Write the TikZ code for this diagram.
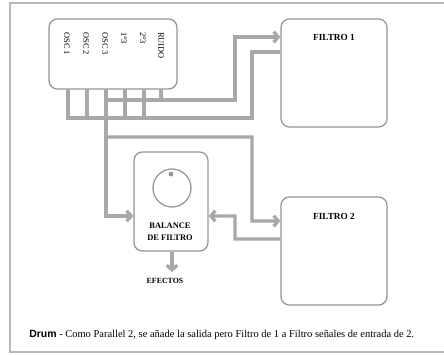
\documentclass[tikz,border=0pt]{standalone}
\usepackage{fontspec}
\setmainfont{Liberation Serif}
\newfontfamily\capsans{Liberation Sans}
\usetikzlibrary{arrows.meta, positioning}
\definecolor{Milinea}{RGB}{168,168,168}
\definecolor{Micaja}{RGB}{150,150,150}
\definecolor{Mimarco}{RGB}{185,185,185}

\begin{document}
\begin{tikzpicture}[
  x=0.025cm, y=-0.025cm,
  caja/.style={rectangle, rounded corners=6pt, draw=Micaja, line width=0.9pt,
               fill=white, minimum width=#1},
  conn/.style={line width=2.4pt, color=Milinea},
  arr/.style={-{Straight Barb[length=3.2pt, width=7.5pt]}},
  canal/.style={rotate=-90, anchor=west, inner sep=0pt,
                font=\fontsize{6pt}{6pt}\selectfont},
  lbl/.style={font=\fontsize{6.6pt}{8pt}\selectfont\bfseries, inner sep=1pt}
]
\useasboundingbox (0,0) rectangle (444,354);

%% Marco
\draw[Mimarco, line width=1.2pt] (444,3) -- (10,3) -- (10,352) -- (444,352);

%% Mezclador
\node[caja=3.2cm, minimum height=1.75cm] (mix) at (113,54) {};
\node[canal] (c1) at (67,32) {OSC 1};
\node[canal] (c2) at (86,32) {OSC 2};
\node[canal] (c3) at (105,32) {OSC 3};
\node[canal] (c4) at (124,32) {1°3};
\node[canal] (c5) at (143,32) {2°3};
\node[canal] (c6) at (161,32) {RUIDO};

\coordinate (o1) at (68,89);
\coordinate (o2) at (87,89);
\coordinate (o3) at (106,89);
\coordinate (o4) at (125,89);
\coordinate (o5) at (144,89);
\coordinate (o6) at (161,89);

%% Filtros
\node[caja=2.65cm, minimum height=2.7cm] (f1) at (334,73) {};
\node[lbl] (t1) at ([yshift=-0.475cm]f1.north) {FILTRO 1};
\node[caja=2.65cm, minimum height=2.7cm] (f2) at (334,251) {};
\node[lbl] (t2) at ([yshift=-0.5cm]f2.north) {FILTRO 2};

%% Balance
\node[caja=1.85cm, minimum height=2.475cm] (bal) at (171,201.5) {};
\node[circle, draw=Micaja, line width=0.9pt, minimum size=0.95cm] (knob) at (172,188) {};
\node[circle, fill=Micaja, inner sep=0pt, minimum size=3.5pt] (dot) at (171,174) {};
\node[lbl, align=center, font=\fontsize{6pt}{8.5pt}\selectfont\bfseries] (btxt) at (170,232)
  {BALANCE\\DE FILTRO};
\node[lbl, font=\fontsize{5.6pt}{7pt}\selectfont\bfseries] (efe) at (165,281) {EFECTOS};

%% Bus 1
\coordinate (k1) at (235,100);
\coordinate (b1) at (161,100);
\draw[conn] (b1) -- (o6);
\draw[conn, arr] (o3) |- (k1) |- ([yshift=0.9cm]f1.west);

%% Bus 2
\coordinate (k2) at (252,118);
\draw[conn] (o1) |- (k2) |- ([yshift=0.525cm]f1.west);
\draw[conn] (o2) -- (o2 |- k2);
\draw[conn] (o4) -- (o4 |- k2);
\draw[conn] (o5) -- (o5 |- k2);

%% Bus 3
\coordinate (k3) at (106,137);
\coordinate (k4) at (252,221);
\draw[conn, arr] (o3) |- ([yshift=-0.3625cm]bal.west);
\draw[conn, arr] (k3) -| (k4) -- ([yshift=0.75cm]f2.west);

%% Retorno filtro 2
\coordinate (k5) at (235,216);
\draw[conn, arr] ([yshift=0.3cm]f2.west) -| (k5) -- ([yshift=-0.3625cm]bal.east);

%% Salida
\coordinate (sal) at (172,272);
\draw[conn, arr] (bal.south -| knob) -- (sal);

%% Pie
\node[anchor=west, inner sep=0pt, font=\fontsize{7.45pt}{9pt}\selectfont] (pie) at (29,335)
  {{\capsans\bfseries Drum} - Como Parallel 2, se añade la salida pero Filtro de 1 a Filtro señales de entrada de 2.};

\end{tikzpicture}
\end{document}
